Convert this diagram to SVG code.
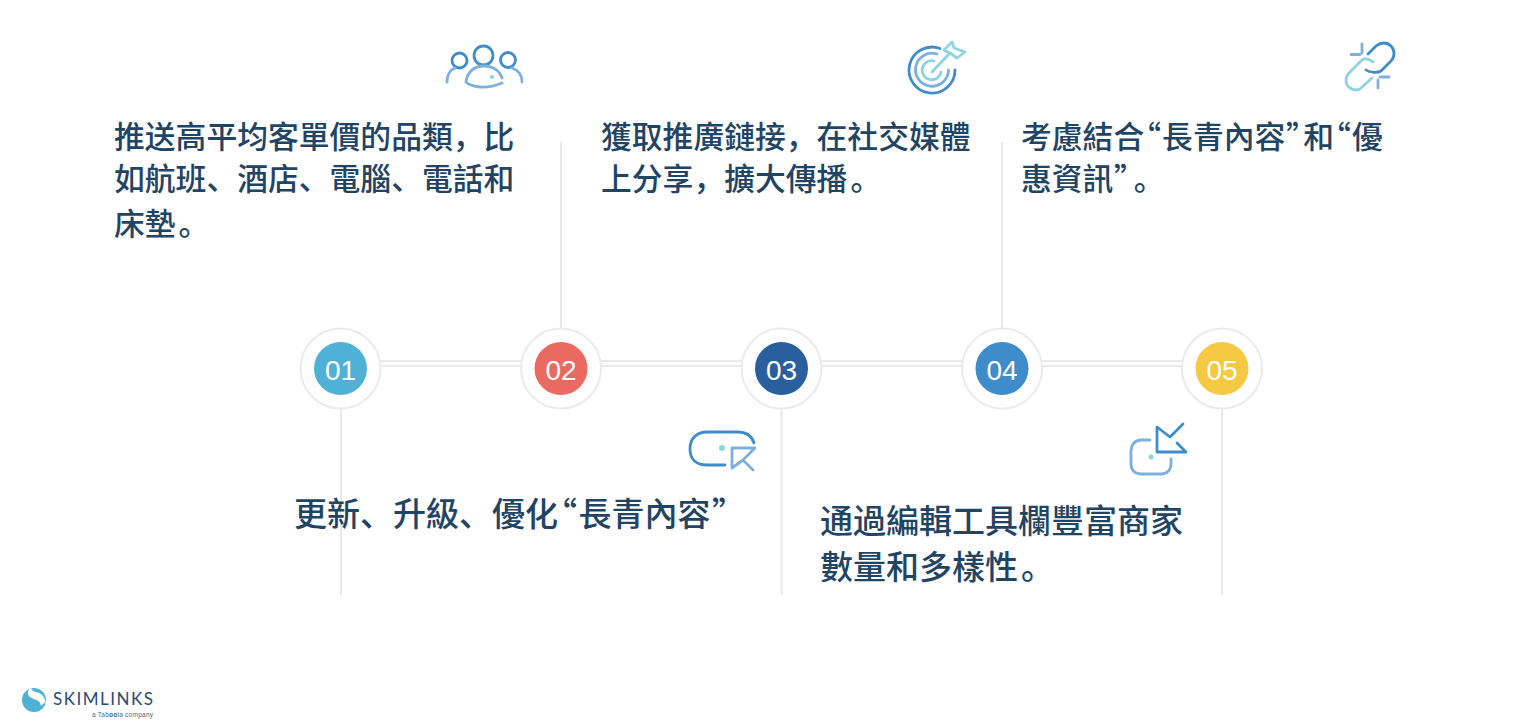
<svg xmlns="http://www.w3.org/2000/svg" width="1538" height="728" viewBox="0 0 1538 728">
<style>
.t{font-family:"Noto Sans CJK SC","Noto Sans CJK TC",sans-serif;font-size:30.8px;font-weight:500;fill:#1f4464}
.s{font-size:33px}
.q{font-feature-settings:"palt"}
.n{font-family:"Liberation Sans",Arial,sans-serif;font-size:28px;fill:#fff;text-anchor:middle}
.ring{fill:#fff;stroke:#ebebeb;stroke-width:2}
.l{stroke:#e9e9e9;stroke-width:2;fill:none}
.i{fill:none;stroke-width:2.800;stroke-linecap:round;stroke-linejoin:round}
.a{stroke:#3f8ccb}.b{stroke:#7db0dc}.c{stroke:#8fd3e0}
</style>
<rect width="1538" height="728" fill="#fff"/>
<g id="connectors">
<path class="l" d="M340 361H1222M340 366H1222"/>
<path class="l" d="M561 142V330M1002 142V330M341 408V595M781.500 408V595M1222 408V595"/>
</g>
<g id="node1"><circle class="ring" cx="340.500" cy="368.500" r="40"/><circle cx="340.500" cy="368.500" r="26.500" fill="#4fb1d6"/><text class="n" x="340.500" y="380">01</text>
<text class="t" x="114" y="147.500">推送高平均客單價的品類，比</text><text class="t" x="114" y="190">如航班、酒店、電腦、電話和</text><text class="t" x="114" y="235">床墊<tspan dx="3">。</tspan></text></g>
<g id="node2"><circle class="ring" cx="561" cy="368.500" r="40"/><circle cx="561" cy="368.500" r="26.500" fill="#ea6a61"/><text class="n" x="561" y="380">02</text>
<text class="t s" x="294" y="526">更新、升級、優化<tspan class="q" dx="2">“</tspan><tspan dx="2">長青內容</tspan><tspan class="q" dx="2">”</tspan></text></g>
<g id="node3"><circle class="ring" cx="781.500" cy="368.500" r="40"/><circle cx="781.500" cy="368.500" r="26.500" fill="#2a5f9e"/><text class="n" x="781.500" y="380">03</text>
<text class="t" x="601" y="147.500">獲取推廣鏈接，在社交媒體</text><text class="t" x="601" y="190">上分享，擴大傳播<tspan dx="3">。</tspan></text></g>
<g id="node4"><circle class="ring" cx="1002" cy="368.500" r="40"/><circle cx="1002" cy="368.500" r="26.500" fill="#3f8ccb"/><text class="n" x="1002" y="380">04</text>
<text class="t s" x="820" y="533">通過編輯工具欄豐富商家</text><text class="t s" x="820" y="579">數量和多樣性<tspan dx="3">。</tspan></text></g>
<g id="node5"><circle class="ring" cx="1222" cy="368.500" r="40"/><circle cx="1222" cy="368.500" r="26.500" fill="#f6c945"/><text class="n" x="1222" y="380">05</text>
<text class="t" x="1021" y="147.500">考慮結合<tspan class="q" dx="1">“</tspan><tspan dx="1.500">長青內容</tspan><tspan class="q" dx="1">”</tspan><tspan dx="1.500">和</tspan><tspan class="q" dx="1">“</tspan><tspan dx="1.500">優</tspan></text><text class="t" x="1021" y="190">惠資訊<tspan class="q" dx="1">”</tspan><tspan dx="4">。</tspan></text></g>
<g id="icon-people">
<circle class="i a" cx="459.500" cy="60.500" r="7.500"/><circle class="i a" cx="483.500" cy="55.500" r="9.500"/><circle class="i a" cx="508" cy="60" r="7.500"/>
<path class="i b" d="M447 82C447 74 450 70 455 68M512 68C518 70 522 75 522 82M502 83C495 86 488 87.500 480 87C474 86.500 469 85 466 82C467 73 473 66 484 66C493 66 500 71 502 78"/>
<circle cx="492" cy="77" r="2" fill="#8fd3e0"/>
</g>
<g id="icon-target">
<path class="i a" d="M940 48.500A23 23 0 1 0 955 70"/>
<path class="i b" d="M937 54A16.500 16.500 0 1 0 948.500 70"/>
<path class="i c" d="M934 61A9.500 9.500 0 1 0 941 72M932 72L950 53M944 50L952 42L954 48L965 52L957 58L950 53L944 50"/>
</g>
<g id="icon-link">
<path class="i a" d="M1368 54L1376 46C1381 42 1387 42 1391 46C1395 50 1395 57 1391 61L1381 71C1378 73 1370 73 1366 70"/>
<path class="i c" d="M1373 62C1370 59 1365 58 1362 60L1349 73C1345 77 1345 84 1349 87C1353 91 1359 91 1362 87L1372 78"/>
<path class="i b" d="M1362 44V53M1351 54.500H1360M1378 80V88M1380 77H1389" stroke-width="2"/>
</g>
<g id="icon-cursor">
<path class="i a" d="M725 465H707C697 465 690 460 690 449C690 438 697 432 707 432H737C746 432 752 436 754 443"/>
<circle cx="722" cy="448" r="3" fill="#8fd3e0"/>
<path class="i b" d="M755 448H732V468L743 460L753 470M743 460L755 448"/>
</g>
<g id="icon-in">
<path class="i b" d="M1150 440H1141C1135 440 1131 445 1131 451V464C1131 470 1135 474 1141 474H1161C1167 474 1171 470 1171 464V459"/>
<circle cx="1151" cy="457" r="2.500" fill="#8fd3e0"/>
<path class="i a" d="M1183 424L1170 437L1157 427V452H1186L1177 443"/>
</g>
<g id="logo">
<circle cx="34" cy="700" r="12" fill="#4fb1d6"/>
<path d="M31 688C27 690 27 695 30 697C34 700 40 699 41 706C43 704 45 702 45.500 703C45 696 41 693 36 692C33 691.500 32 690 31 688Z" fill="#fff"/>
<text x="53" y="705" font-family="Lato,sans-serif" font-size="17" textLength="100" lengthAdjust="spacing" fill="#2a4a78">SKIMLINKS</text>
<text x="92" y="716.500" font-family="'Liberation Sans',sans-serif" font-size="6.500" textLength="61" fill="#4a6688">a Tab<tspan font-weight="700">oo</tspan>la company</text>
</g>
</svg>
